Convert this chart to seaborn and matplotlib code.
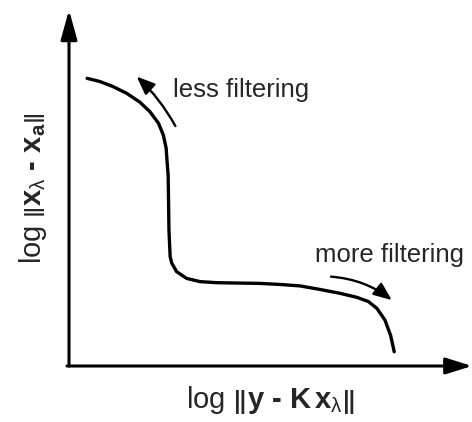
import matplotlib
matplotlib.use("Agg")
import matplotlib.pyplot as plt
import seaborn as sns
import pandas as pd

# L-curve (schematic), data units: x = log residual norm, y = log solution norm
log_residual = [0.45, 0.77, 1.09, 1.43, 1.76, 2.01, 2.22, 2.34, 2.41, 2.44, 2.46,
                2.47, 2.48, 2.51, 2.55, 2.67, 2.92, 3.25, 3.67, 4.19, 4.74, 5.24,
                5.73, 6.23, 6.73, 7.14, 7.43, 7.64, 7.84, 7.98, 8.07]
log_solution = [8.08, 7.99, 7.85, 7.66, 7.41, 7.14, 6.82, 6.49, 6.12, 5.65, 5.37,
                4.66, 3.82, 3.07, 2.89, 2.65, 2.46, 2.37, 2.34, 2.33, 2.32, 2.29,
                2.25, 2.15, 2.04, 1.93, 1.81, 1.62, 1.29, 0.86, 0.40]
annotation_labels = ["less filtering", "more filtering"]

sns.set_theme(style="white")
plt.rcParams["font.family"] = ["Liberation Sans", "DejaVu Sans"]
plt.rcParams["mathtext.fontset"] = "custom"
plt.rcParams["mathtext.rm"] = "Liberation Sans"
plt.rcParams["mathtext.bf"] = "Liberation Sans:bold"
plt.rcParams["mathtext.it"] = "Liberation Sans:italic"

df = pd.DataFrame({"res": log_residual, "sol": log_solution})

fig = plt.figure(figsize=(4.72, 4.22), dpi=100)
ax = fig.add_axes([69 / 472, 1 - 366 / 422, 403 / 472, 356 / 422])
sns.lineplot(data=df, x="res", y="sol", sort=False, estimator=None,
             color="black", lw=2.4, ax=ax)
for ln in ax.lines:
    ln.set_solid_joinstyle("round")
    ln.set_solid_capstyle("round")
ax.set_xlim(0, 10)
ax.set_ylim(0, 10)
for s in ax.spines.values():
    s.set_visible(False)
ax.set_xticks([])
ax.set_yticks([])

# axis arrows
ax.annotate("", xy=(0, 1), xytext=(0, 0), xycoords="axes fraction",
            arrowprops=dict(arrowstyle="-|>,head_length=1.8,head_width=0.5",
                            lw=2.2, color="black", mutation_scale=10,
                            shrinkA=0, shrinkB=0))
ax.annotate("", xy=(1, 0), xytext=(-0.005, 0), xycoords="axes fraction",
            arrowprops=dict(arrowstyle="-|>,head_length=1.6,head_width=0.5",
                            lw=2.2, color="black", mutation_scale=10,
                            shrinkA=0, shrinkB=0))

# curved direction arrows
ax.annotate("", xy=(1.68, 8.13), xytext=(2.64, 6.74),
            arrowprops=dict(arrowstyle="-|>,head_length=1.1,head_width=0.45",
                            lw=1.7, color="black", mutation_scale=10,
                            connectionstyle="arc3,rad=0.08",
                            shrinkA=0, shrinkB=0))
ax.annotate("", xy=(8.01, 1.85), xytext=(6.50, 2.51),
            arrowprops=dict(arrowstyle="-|>,head_length=1.1,head_width=0.45",
                            lw=1.7, color="black", mutation_scale=10,
                            connectionstyle="arc3,rad=-0.15",
                            shrinkA=0, shrinkB=0))

ax.text(2.58, 7.75, annotation_labels[0], ha="left", va="center", fontsize=18.5)
ax.text(6.10, 3.12, annotation_labels[1], ha="left", va="center", fontsize=18.5)

ax.set_ylabel("log $\\left\\|\\mathbf{x}_{\\mathrm{\u03bb}}\\ \\mathbf{\u2010}\\ \\mathbf{x}_{\\mathbf{a}}\\right\\|$",
              fontsize=21)
ax.set_xlabel("log $\\left\\|\\mathbf{y}\\ \\mathbf{\u2010}\\ \\mathbf{K}\\,\\mathbf{x}_{\\mathrm{\u03bb}}\\right\\|$",
              fontsize=21)
ax.yaxis.set_label_coords(-0.09, 0.5)
ax.xaxis.set_label_coords(0.5, -0.095)
ax.xaxis.label.set_va("center")
ax.yaxis.label.set_va("center")

fig.savefig("out.png", dpi=100)
